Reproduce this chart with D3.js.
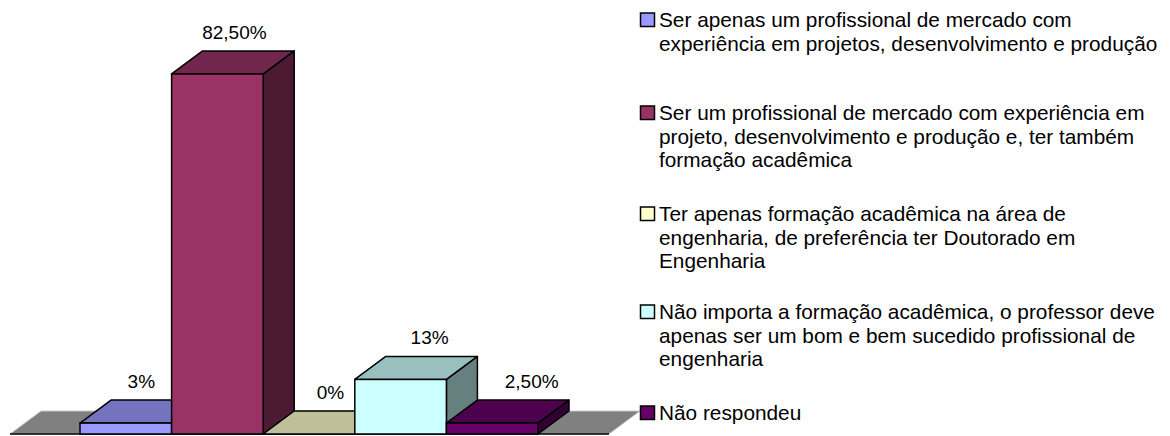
<!DOCTYPE html>
<html>
<head>
<meta charset="utf-8">
<script src="https://cdn.jsdelivr.net/npm/d3@7"></script>
<style>
  html, body { margin: 0; padding: 0; background: #fff; }
  svg { display: block; }
  text { font-family: "Liberation Sans", Arial, sans-serif; }
</style>
</head>
<body>
<svg id="chart" width="1170" height="436"></svg>
<script>
// ---- data ----
const categories = ["A", "B", "C", "D", "E"];
const values = [2.5, 82.5, 0, 12.5, 2.5];
const valueLabels = ["3%", "82,50%", "0%", "13%", "2,50%"];
const colors = ["#9999FF", "#993366", "#FFFFCC", "#CCFFFF", "#660066"];
const legendLabels = [
  ["Ser apenas um profissional de mercado com", "experiência em projetos, desenvolvimento e produção"],
  ["Ser um profissional de mercado com experiência em", "projeto, desenvolvimento e produção e, ter também", "formação acadêmica"],
  ["Ter apenas formação acadêmica na área de", "engenharia, de preferência ter Doutorado em", "Engenharia"],
  ["Não importa a formação acadêmica, o professor deve", "apenas ser um bom e bem sucedido profissional de", "engenharia"],
  ["Não respondeu"]
];

// ---- layout ----
const svg = d3.select("#chart");
const DX = 31, DY = -23;           // 3D depth offset
const baseY = 434;
const floorLeft = 10, floorRight = 609;

const x = d3.scaleBand().domain(categories).range([80, 538]).padding(0);
const y = d3.scaleLinear().domain([0, 100]).range([baseY, baseY - 436.4]);

function shade(c, k) {
  const r = d3.rgb(c);
  return d3.rgb(r.r * k, r.g * k, r.b * k).formatHex();
}
const pt = p => p.map(q => q.join(",")).join(" ");

// floor
svg.append("polygon")
  .attr("points", pt([[floorLeft, baseY], [floorRight, baseY], [floorRight + DX, baseY + DY], [floorLeft + DX, baseY + DY]]))
  .attr("fill", "#808080")
  .attr("stroke", "#c8c8c8")
  .attr("stroke-width", 1);
svg.append("line")
  .attr("x1", floorLeft).attr("x2", floorRight)
  .attr("y1", baseY).attr("y2", baseY)
  .attr("stroke", "#000").attr("stroke-width", 1.5);

// bars
const g = svg.append("g");
categories.forEach((c, i) => {
  const x0 = x(c), x1 = x(c) + x.bandwidth();
  const yt = y(values[i]);
  const col = colors[i];
  const bar = g.append("g");
  bar.append("polygon")
    .attr("points", pt([[x1, baseY], [x1, yt], [x1 + DX, yt + DY], [x1 + DX, baseY + DY]]))
    .attr("fill", shade(col, 0.5))
    .attr("stroke", "#000").attr("stroke-width", 1.5).attr("stroke-linejoin", "round");
  bar.append("polygon")
    .attr("points", pt([[x0, yt], [x1, yt], [x1 + DX, yt + DY], [x0 + DX, yt + DY]]))
    .attr("fill", shade(col, 0.75))
    .attr("stroke", "#000").attr("stroke-width", 1.5).attr("stroke-linejoin", "round");
  if (values[i] > 0) {
    bar.append("rect")
      .attr("x", x0).attr("y", yt)
      .attr("width", x.bandwidth()).attr("height", baseY - yt)
      .attr("fill", col)
      .attr("stroke", "#000").attr("stroke-width", 1.5);
  }
});

// value labels
categories.forEach((c, i) => {
  const cx = x(c) + x.bandwidth() / 2 + DX / 2 + i * i * 1.5;
  svg.append("text")
    .attr("x", cx)
    .attr("y", y(values[i]) + DY - 12)
    .attr("text-anchor", "middle")
    .attr("font-size", 19)
    .attr("fill", "#000")
    .text(valueLabels[i]);
});

// legend
const legendTop = [20, 113, 214, 312, 413];
const lineH = 23.3;
const legendFont = 20.8;
const leg = svg.append("g");
legendLabels.forEach((lines, i) => {
  const cy = legendTop[i];
  leg.append("rect")
    .attr("x", 640.5).attr("y", cy - 7)
    .attr("width", 14).attr("height", 13.5)
    .attr("fill", colors[i])
    .attr("stroke", "#000").attr("stroke-width", 1.5);
  const t = leg.append("text")
    .attr("x", 659)
    .attr("y", cy + 7.3)
    .attr("font-size", legendFont)
    .attr("fill", "#000");
  lines.forEach((ln, j) => {
    t.append("tspan").attr("x", 659).attr("dy", j === 0 ? 0 : lineH).text(ln);
  });
});
</script>
</body>
</html>
